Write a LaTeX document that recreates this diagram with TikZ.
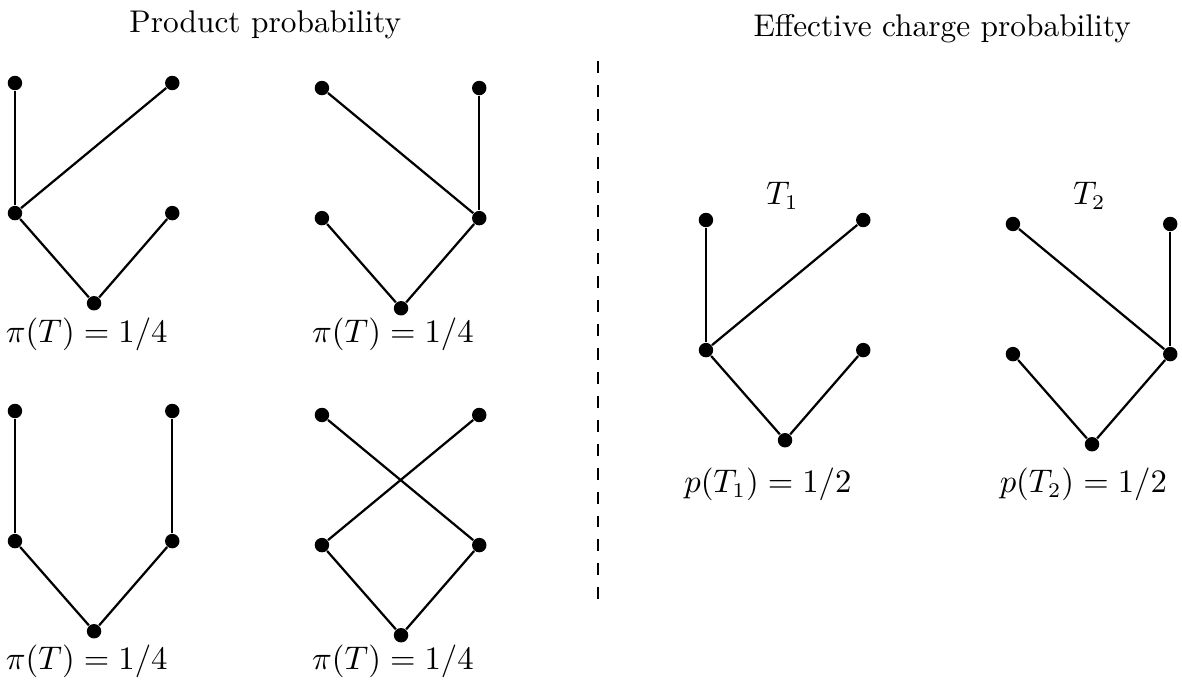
\documentclass[tikz,border=0pt]{standalone}
\usepackage{tikz}

\begin{document}
\begin{tikzpicture}[
    every node/.style={font=\fontsize{10.5}{12.6}\selectfont},
    vtx/.style={circle, fill=black, inner sep=0pt, minimum size=0.17cm},
    edge/.style={line width=0.75pt},
    sep/.style={line width=0.75pt, dash pattern=on 4pt off 4pt}
  ]
    \useasboundingbox (0,0) rectangle (13.90,-8.04);

    % five vertices per tree: two leaves, two inner, one root
    \foreach \t/\x/\y in {a/0.176/-0.976, b/3.786/-1.035, c/0.176/-4.833, d/3.786/-4.880, e/8.302/-2.587, f/11.912/-2.634} {
      \begin{scope}[shift={(\x,\y)}]
        \node[vtx] (\t-ll) at (0,0) {};
        \node[vtx] (\t-lr) at (1.85,0) {};
        \node[vtx] (\t-il) at (0,-1.53) {};
        \node[vtx] (\t-ir) at (1.85,-1.53) {};
        \node[vtx] (\t-rt) at (0.93,-2.59) {};
      \end{scope}
    }

    \node (prodTitle) at (3.12,-0.29) {Product probability};
    \node (effTitle) at (11.08,-0.34) {Effective charge probability};

    \draw[edge] (a-ll) -- (a-il);
    \draw[edge] (a-lr) -- (a-il);
    \draw[edge] (a-il) -- (a-rt);
    \draw[edge] (a-ir) -- (a-rt);

    \draw[edge] (b-ll) -- (b-ir);
    \draw[edge] (b-lr) -- (b-ir);
    \draw[edge] (b-il) -- (b-rt);
    \draw[edge] (b-ir) -- (b-rt);

    \draw[edge] (c-ll) -- (c-il);
    \draw[edge] (c-lr) -- (c-ir);
    \draw[edge] (c-il) -- (c-rt);
    \draw[edge] (c-ir) -- (c-rt);

    \draw[edge] (d-ll) -- (d-ir);
    \draw[edge] (d-lr) -- (d-il);
    \draw[edge] (d-il) -- (d-rt);
    \draw[edge] (d-ir) -- (d-rt);

    \draw[edge] (e-ll) -- (e-il);
    \draw[edge] (e-lr) -- (e-il);
    \draw[edge] (e-il) -- (e-rt);
    \draw[edge] (e-ir) -- (e-rt);

    \draw[edge] (f-ll) -- (f-ir);
    \draw[edge] (f-lr) -- (f-ir);
    \draw[edge] (f-il) -- (f-rt);
    \draw[edge] (f-ir) -- (f-rt);

    \node (a-lab) at (1.02,-3.93) {$\pi(T) = 1/4$};
    \node (b-lab) at (4.62,-3.93) {$\pi(T) = 1/4$};
    \node (c-lab) at (1.02,-7.78) {$\pi(T) = 1/4$};
    \node (d-lab) at (4.62,-7.78) {$\pi(T) = 1/4$};

    \node (e-name) at (9.20,-2.30) {$T_1$};
    \node (f-name) at (12.81,-2.30) {$T_2$};
    \node (e-lab) at (9.03,-5.70) {$p(T_1) = 1/2$};
    \node (f-lab) at (12.74,-5.70) {$p(T_2) = 1/2$};

    \coordinate (sepTop) at (7.03,-0.72);
    \coordinate (sepBot) at (7.03,-7.06);
    \draw[sep] (sepTop) -- (sepBot);
  \end{tikzpicture}
\end{document}
